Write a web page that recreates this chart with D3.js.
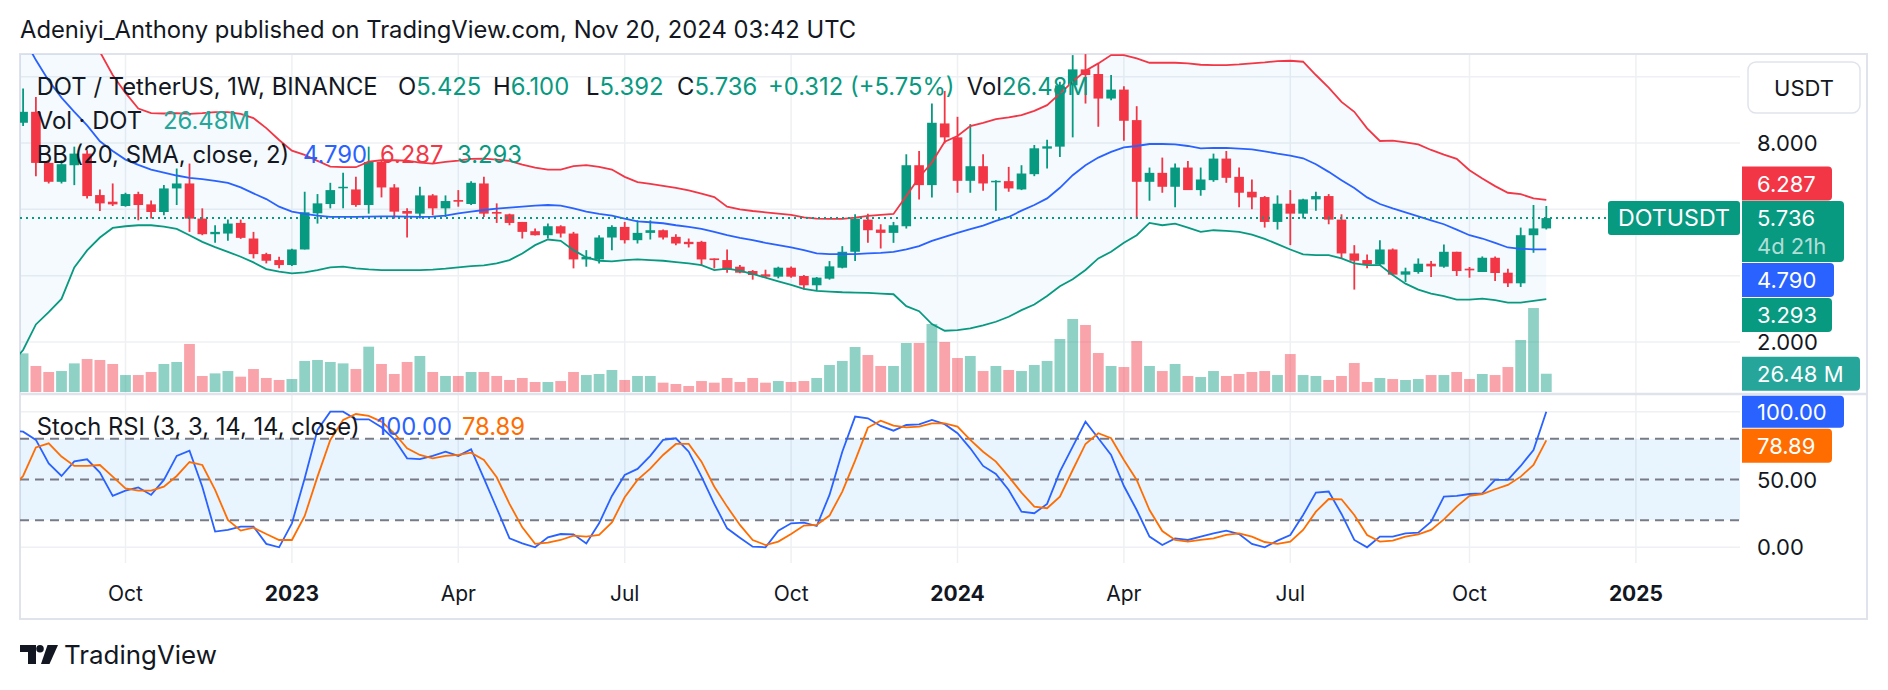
<!DOCTYPE html>
<html>
<head>
<meta charset="utf-8">
<script src="https://cdn.jsdelivr.net/npm/d3@7"></script>
<style>
  body { margin: 0; background: #fff; }
  svg { display: block; font-family: Inter, "Noto Sans", sans-serif; }
</style>
</head>
<body>
<svg id="chart" width="1888" height="690"></svg>
<script>
// weekly DOT/USDT bars, first week starts Mon 2022-08-01
const firstWeek = "2022-08-01";

const open = [8.70,8.61,8.94,7.40,6.83,7.33,7.68,6.43,6.23,6.10,
  6.46,6.15,5.92,6.63,6.78,5.72,5.25,5.27,5.59,5.12,
  4.65,4.47,4.32,4.79,5.88,6.16,6.64,6.60,6.13,7.43,
  6.66,5.95,5.87,6.42,6.03,6.28,6.16,6.78,5.92,5.85,
  5.62,5.34,5.22,5.49,5.27,4.49,4.49,5.15,5.47,5.07,
  5.29,5.37,5.17,5.02,5.02,4.52,4.47,4.27,4.14,4.04,
  3.97,4.24,3.99,3.71,3.91,4.24,4.72,5.69,5.39,5.29,
  5.49,7.33,6.73,8.59,8.17,6.86,7.30,6.83,6.85,6.60,
  7.06,7.83,7.89,9.74,10.22,10.08,9.34,9.61,8.69,6.83,
  7.10,6.68,7.26,6.58,6.88,7.53,6.98,6.53,6.37,5.62,
  6.17,5.87,6.30,6.40,5.69,4.67,4.47,4.34,4.79,4.03,
  4.11,4.36,4.27,4.72,4.21,4.11,4.54,4.09,3.77,5.22,5.425];
const high = [9.30,9.64,9.39,7.43,7.48,7.89,7.78,6.60,6.78,6.50,
  6.53,6.27,6.73,7.23,7.38,6.03,5.52,5.69,5.69,5.32,
  4.69,4.57,4.81,6.53,6.46,6.80,7.10,6.98,7.89,7.48,
  6.76,6.03,6.68,6.46,6.42,6.58,6.85,6.98,6.18,5.87,
  5.62,5.42,5.57,5.52,5.32,4.77,5.22,5.52,5.62,5.67,
  5.67,5.39,5.25,5.12,5.05,4.52,4.79,4.32,4.17,4.18,
  4.27,4.28,4.02,3.96,4.44,4.89,5.85,5.87,5.55,5.62,
  7.66,7.76,9.19,9.57,8.79,8.57,7.66,6.88,7.28,7.33,
  7.94,8.10,9.85,10.65,10.68,10.40,10.05,9.71,9.11,7.26,
  7.56,7.38,7.46,7.26,7.68,7.76,7.26,6.90,6.40,6.42,
  6.58,6.32,6.53,6.46,5.85,4.92,4.64,5.07,4.82,4.24,
  4.52,4.44,4.94,4.72,4.26,4.58,4.58,4.21,5.45,6.13,6.100];
const low = [8.20,8.51,7.00,6.78,6.78,6.73,6.33,5.95,6.10,6.08,
  5.67,5.72,5.82,6.13,5.32,5.22,4.99,5.05,5.11,4.52,
  4.37,4.22,4.29,4.79,5.57,6.03,6.03,6.08,5.87,6.36,
  5.72,5.15,5.72,5.82,5.77,6.08,6.13,5.77,5.59,5.52,
  5.12,5.21,5.12,5.15,4.22,4.27,4.37,4.77,4.97,4.97,
  5.09,5.09,4.92,4.85,4.29,4.22,4.09,4.07,3.88,3.94,
  3.92,3.94,3.58,3.54,3.88,4.22,4.44,4.99,4.82,4.99,
  5.42,6.30,6.36,7.99,6.50,6.50,6.56,5.96,6.53,6.58,
  7.00,7.23,7.58,8.17,9.19,8.49,9.29,8.07,5.72,6.26,
  6.50,6.06,6.58,6.41,6.83,6.80,6.06,6.00,5.45,5.39,
  4.92,5.72,5.96,5.55,4.52,3.58,4.22,4.31,4.01,3.81,
  4.06,3.96,4.24,3.99,3.94,4.11,3.84,3.66,3.66,4.69,5.392];
const close = [8.61,8.94,7.40,6.83,7.36,7.68,6.40,6.18,6.15,6.46,
  6.13,5.92,6.63,6.78,5.72,5.25,5.32,5.57,5.14,4.65,
  4.45,4.32,4.79,5.91,6.18,6.58,6.68,6.13,7.43,6.66,
  5.93,5.87,6.42,6.03,6.25,6.23,6.80,5.87,5.87,5.59,
  5.32,5.22,5.49,5.27,4.49,4.57,5.15,5.47,5.07,5.29,
  5.37,5.15,4.97,4.95,4.49,4.47,4.17,4.09,4.02,3.97,
  4.24,3.97,3.71,3.94,4.28,4.72,5.72,5.37,5.29,5.52,
  7.33,6.73,8.61,8.17,6.86,7.30,6.78,6.86,6.63,7.08,
  7.84,7.90,9.74,10.22,10.05,9.34,9.61,8.67,6.83,7.10,
  6.68,7.26,6.58,6.90,7.53,6.95,6.50,6.36,5.62,6.17,
  5.87,6.30,6.40,5.69,4.67,4.45,4.34,4.79,4.03,4.13,
  4.36,4.28,4.72,4.14,4.16,4.54,4.08,3.77,5.22,5.424,5.736];
// volume in millions of DOT
const volume = [60,56,37.7,29,30.4,41.5,47.8,46.4,40.6,24.6,
  24.6,29,40.6,43.5,69.6,23.2,27,30.4,22.2,33.3,
  20.3,17.4,18.8,45,46.4,43.5,41.5,33.3,65.7,40.6,
  26.1,43.5,52.2,29,23.2,23.2,29,29,23.2,17.4,
  20.3,14.5,14.5,15.9,29,24.6,26.1,31.9,17.4,23.2,
  23.2,13.5,11.6,8.7,15.9,13.5,20.3,14.5,20.3,13.5,
  15.9,14.5,15.9,20.3,39.1,45,65.2,53.6,37.7,37.7,
  71,71,98.6,72.5,49.3,52.2,30.4,37.7,31.9,30.4,
  39.1,45,76.8,105.8,97.1,56.5,37.7,36.2,73.9,37.7,
  30.4,40.6,23.2,21.7,30.4,23.2,26.1,29,30.4,24.6,
  55,24.6,23.2,17.4,23.2,42,14.5,20.3,18.8,17.4,
  18.8,24.6,24.6,29,18.8,26.1,24.6,36.2,75.4,121.7,26.48];

// Bollinger bands (20, SMA, close, 2)
const bbUpper = [14.6,14.0,13.3,12.6,12.0,11.5,11.1,10.75,10.05,9.51,
  9.04,8.90,8.89,8.90,8.88,8.90,8.93,8.93,8.88,8.75,
  8.45,8.09,7.77,7.64,7.46,7.29,7.27,7.27,7.44,7.48,
  7.48,7.47,7.41,7.38,7.43,7.47,7.52,7.53,7.50,7.46,
  7.35,7.26,7.20,7.20,7.30,7.33,7.28,7.20,6.98,6.82,
  6.77,6.71,6.65,6.57,6.47,6.37,6.08,6.00,5.95,5.91,
  5.87,5.83,5.76,5.72,5.71,5.71,5.75,5.80,5.83,5.86,
  6.40,6.96,7.41,8.04,8.21,8.51,8.61,8.72,8.77,8.84,
  8.97,9.14,9.49,9.85,10.18,10.40,10.65,10.65,10.55,10.42,
  10.42,10.42,10.40,10.36,10.35,10.35,10.37,10.40,10.43,10.47,
  10.48,10.45,10.05,9.67,9.24,8.94,8.44,8.06,8.07,8.02,
  7.96,7.79,7.65,7.52,7.18,6.93,6.70,6.50,6.46,6.33,6.287];
const bbBasis = [11.8,11.2,10.5,9.88,9.37,8.94,8.53,8.05,7.76,7.50,
  7.34,7.20,7.11,7.02,6.95,6.91,6.86,6.80,6.66,6.48,
  6.31,6.08,5.93,5.86,5.81,5.77,5.77,5.77,5.78,5.79,
  5.79,5.78,5.77,5.78,5.81,5.88,5.93,5.98,6.02,6.05,
  6.08,6.11,6.13,6.11,6.03,5.93,5.86,5.81,5.72,5.64,
  5.61,5.58,5.52,5.47,5.41,5.32,5.22,5.14,5.07,4.99,
  4.92,4.85,4.77,4.67,4.65,4.65,4.65,4.67,4.69,4.72,
  4.79,4.89,5.05,5.17,5.29,5.40,5.51,5.65,5.77,5.96,
  6.13,6.33,6.65,7.03,7.33,7.56,7.73,7.87,7.91,7.97,
  7.97,7.96,7.91,7.84,7.85,7.85,7.83,7.81,7.75,7.68,
  7.62,7.54,7.36,7.13,6.88,6.64,6.36,6.16,6.03,5.91,
  5.79,5.67,5.55,5.39,5.22,5.12,4.99,4.85,4.81,4.79,4.790];
const bbLower = [1.3,1.76,2.53,2.90,3.30,4.25,4.76,5.15,5.44,5.49,
  5.52,5.52,5.48,5.41,5.22,5.02,4.86,4.72,4.57,4.40,
  4.20,4.12,4.07,4.10,4.17,4.25,4.27,4.22,4.19,4.17,
  4.17,4.17,4.17,4.18,4.21,4.25,4.29,4.31,4.37,4.47,
  4.67,4.92,5.09,5.05,4.77,4.55,4.45,4.43,4.47,4.49,
  4.47,4.45,4.41,4.37,4.32,4.17,4.21,4.15,4.05,3.94,
  3.83,3.72,3.60,3.54,3.52,3.50,3.49,3.48,3.46,3.44,
  3.08,2.93,2.54,2.34,2.36,2.41,2.50,2.61,2.76,2.96,
  3.13,3.39,3.68,3.89,4.17,4.52,4.72,4.99,5.22,5.59,
  5.52,5.57,5.45,5.32,5.37,5.35,5.32,5.24,5.11,4.95,
  4.79,4.64,4.62,4.62,4.52,4.37,4.32,4.32,4.02,3.76,
  3.58,3.46,3.38,3.28,3.28,3.31,3.26,3.19,3.19,3.24,3.293];

// Stoch RSI (3, 3, 14, 14, close)
const stochK = [86,85.3,79.2,61.9,52.6,63.4,64.9,55.1,37.9,41.8,
  44.2,38.6,49.7,67.4,71.3,44.7,11.6,12.8,15.2,15.2,
  2.5,0,17.7,50.9,86.5,100,100,94.4,94.4,88.5,
  79.6,65.6,65.1,67.4,70.5,67.4,72.3,50.9,28.8,6.6,
  2.9,0,7.4,9.8,9.6,2.9,17.7,37.9,53.3,57.8,
  67.4,79.2,80.4,70.5,52.1,32.0,14.0,7.1,0.5,0,
  12.3,17.7,18.2,15.7,38.6,70.5,96.4,95.1,89.5,86.0,
  90.2,90.7,93.9,90.8,84.1,73.0,60.0,54.1,42.3,26.3,
  25.1,32.0,55.8,74.2,92.7,80.4,68.1,45.2,27.5,7.9,
  1.7,6.6,5.4,7.9,10.3,12.3,9.8,2.5,0,4.9,
  9.1,23.8,40.3,41.1,24.6,5.4,0,7.9,7.9,10.3,
  10.8,18.9,37.4,37.9,39.3,39.8,49.7,49.7,60.0,71.8,100];
const stochD = [42,52.6,73.7,76.7,66.9,60.0,60.0,60.7,52.1,43.5,
  41.8,41.8,44.7,52.6,62.9,60.7,42.3,20.2,12.3,14.5,
  9.8,5.4,5.4,23.1,52.1,79.2,93.9,98.3,96.9,92.7,
  84.1,73.0,68.1,65.6,67.4,68.1,69.8,64.4,51.6,32.0,
  14.7,2.5,3.4,5.4,8.6,7.9,9.1,18.4,36.9,49.7,
  58.0,68.1,76.2,76.2,63.2,44.7,30.0,16.5,5.4,1.7,
  4.2,9.8,16.0,16.5,23.4,41.1,63.9,88.3,93.4,89.7,
  88.5,89.0,91.4,91.4,89.0,79.2,70.5,63.2,52.1,40.3,
  30.0,28.8,37.4,57.0,76.2,84.1,80.4,64.4,49.7,27.5,
  12.0,5.4,4.2,5.4,6.6,9.1,10.3,7.9,3.9,2.5,
  4.2,12.8,26.3,35.6,35.4,23.8,9.1,4.2,4.9,7.9,
  9.6,12.8,20.6,30.0,37.9,39.3,42.8,46.0,52.1,60.7,78.89];

const tickDates  = ["2022-10-03","2023-01-02","2023-04-03","2023-07-03","2023-10-02",
                    "2024-01-01","2024-04-01","2024-07-01","2024-10-07","2025-01-06"];
const tickLabels = ["Oct","2023","Apr","Jul","Oct","2024","Apr","Jul","Oct","2025"];
const priceGrid = [10, 8, 6, 4, 2];
const priceLabels = [8, 2];
const stochGrid = [100, 0];
const stochDashed = [80, 50, 20];
const stochLabels = [50, 0];

const UP = "#089981", DOWN = "#F23645", BLUE = "#2962FF", ORANGE = "#FF6D00", TXT = "#131722";
const GRID = "#EEF0F3", BORDER = "#E0E3EB";

const svg = d3.select("#chart");
const parse = d3.utcParse("%Y-%m-%d");
const start = parse(firstWeek);
const weeks = open.map((_, i) => d3.utcMonday.offset(start, i));
const n = open.length;

const L = 20, R = 1740, AX = 1867;
const mainTop = 54, mainBot = 393, stTop = 395, stBot = 563, bottom = 619;

const x = d3.scaleUtc().domain([start, parse("2025-01-06")]).range([10.3, 1635.9]);
const y = d3.scaleLinear().domain([2, 8]).range([342, 143]);
const yv = d3.scaleLinear().domain([0, 100]).range([392, 323]);
const ys = d3.scaleLinear().domain([0, 100]).range([547.3, 411.7]);

const defs = svg.append("defs");
defs.append("clipPath").attr("id", "mainClip").append("rect")
  .attr("x", L).attr("y", mainTop).attr("width", R - L).attr("height", mainBot - mainTop);
defs.append("clipPath").attr("id", "stClip").append("rect")
  .attr("x", L).attr("y", stTop).attr("width", R - L).attr("height", stBot - stTop);

function fit(sel, width) {
  const w = sel.node().getComputedTextLength();
  const fs = +sel.attr("font-size") * width / w;
  sel.attr("font-size", fs);
  return fs;
}

// title
const title = svg.append("text").attr("x", 20).attr("y", 38).attr("fill", TXT)
  .attr("font-size", 21).text("Adeniyi_Anthony published on TradingView.com, Nov 20, 2024 03:42 UTC");
fit(title, 837);

// grid
const grid = svg.append("g");
grid.selectAll(".hg").data(priceGrid).join("line")
  .attr("x1", L).attr("x2", R).attr("y1", d => y(d)).attr("y2", d => y(d))
  .attr("stroke", GRID).attr("stroke-width", 1.5);
grid.selectAll(".sg").data(stochGrid).join("line")
  .attr("x1", L).attr("x2", R).attr("y1", d => ys(d)).attr("y2", d => ys(d))
  .attr("stroke", GRID).attr("stroke-width", 1.5);
tickDates.forEach(t => {
  const xx = x(parse(t));
  grid.append("line").attr("x1", xx).attr("x2", xx).attr("y1", mainTop).attr("y2", mainBot)
    .attr("stroke", GRID).attr("stroke-width", 1.5);
  grid.append("line").attr("x1", xx).attr("x2", xx).attr("y1", stTop).attr("y2", stBot)
    .attr("stroke", GRID).attr("stroke-width", 1.5);
});

// frame
svg.append("rect").attr("x", L).attr("y", mainTop).attr("width", AX - L).attr("height", bottom - mainTop)
  .attr("fill", "none").attr("stroke", BORDER).attr("stroke-width", 2);
svg.append("line").attr("x1", L).attr("x2", AX).attr("y1", 394).attr("y2", 394)
  .attr("stroke", BORDER).attr("stroke-width", 2.5);

// main pane
const main = svg.append("g").attr("clip-path", "url(#mainClip)");
const idx = d3.range(n);

main.append("path").datum(idx)
  .attr("fill", "rgba(33,150,243,0.05)")
  .attr("d", d3.area().x(i => x(weeks[i])).y0(i => y(bbLower[i])).y1(i => y(bbUpper[i])));

main.append("g").selectAll("rect").data(idx).join("rect")
  .attr("x", i => x(weeks[i]) - 5.4).attr("width", 10.8)
  .attr("y", i => yv(volume[i])).attr("height", i => yv(0) - yv(volume[i]))
  .attr("fill", i => close[i] >= open[i] ? "rgba(8,153,129,0.45)" : "rgba(242,54,69,0.45)");

const candles = main.append("g").selectAll("g").data(idx).join("g");
candles.append("line")
  .attr("x1", i => x(weeks[i])).attr("x2", i => x(weeks[i]))
  .attr("y1", i => y(high[i])).attr("y2", i => y(low[i]))
  .attr("stroke", i => close[i] >= open[i] ? UP : DOWN).attr("stroke-width", 1.8);
candles.append("rect")
  .attr("x", i => x(weeks[i]) - 4.8).attr("width", 9.6)
  .attr("y", i => y(Math.max(open[i], close[i])))
  .attr("height", i => Math.max(1.5, Math.abs(y(open[i]) - y(close[i]))))
  .attr("fill", i => close[i] >= open[i] ? UP : DOWN);

[[bbUpper, DOWN], [bbBasis, BLUE], [bbLower, UP]].forEach(([arr, col]) => {
  main.append("path").datum(idx).attr("fill", "none").attr("stroke", col).attr("stroke-width", 1.8)
    .attr("d", d3.line().x(i => x(weeks[i])).y(i => y(arr[i])));
});

const last = n - 1;
main.append("line").attr("x1", L).attr("x2", 1608)
  .attr("y1", y(close[last])).attr("y2", y(close[last]))
  .attr("stroke", UP).attr("stroke-width", 2).attr("stroke-dasharray", "2,4");

// stoch pane
const st = svg.append("g");
st.append("rect").attr("x", L).attr("width", R - L)
  .attr("y", ys(80)).attr("height", ys(20) - ys(80)).attr("fill", "rgba(33,150,243,0.1)");
st.selectAll(".dl").data(stochDashed).join("line")
  .attr("x1", L).attr("x2", R).attr("y1", d => ys(d)).attr("y2", d => ys(d))
  .attr("stroke", "#787B86").attr("stroke-width", 2).attr("stroke-dasharray", "9,6");
const stl = st.append("g").attr("clip-path", "url(#stClip)");
[[stochK, BLUE], [stochD, ORANGE]].forEach(([arr, col]) => {
  stl.append("path").datum(idx).attr("fill", "none").attr("stroke", col).attr("stroke-width", 1.8)
    .attr("d", d3.line().x(i => x(weeks[i])).y(i => ys(arr[i])));
});

// legends
const lg = svg.append("g");
const l1 = lg.append("text").attr("x", 36.7).attr("y", 94.5).attr("fill", TXT).attr("font-size", 22)
  .text("DOT / TetherUS, 1W, BINANCE");
const fs = fit(l1, 341);
function seg(xx, yy, parts) {
  const t = lg.append("text").attr("x", xx).attr("y", yy).attr("font-size", fs);
  parts.forEach(([s, c]) => t.append("tspan").attr("fill", c).text(s));
  return t;
}
const fmt3 = d3.format(".3f");
seg(398, 94.5, [["O", TXT], [fmt3(open[last]), UP]]);
seg(493, 94.5, [["H", TXT], [fmt3(high[last]), UP]]);
seg(586, 94.5, [["L", TXT], [fmt3(low[last]), UP]]);
seg(677, 94.5, [["C", TXT], [fmt3(close[last]), UP]]);
const chg = close[last] - close[last - 1];
seg(768, 94.5, [["+" + fmt3(chg) + " (+" + d3.format(".2f")(chg / close[last - 1] * 100) + "%)", UP]]);
seg(966.7, 94.5, [["Vol", TXT], [volume[last].toFixed(2) + "M", UP]]);
seg(36.7, 128.5, [["Vol · DOT", TXT]]);
seg(163, 128.5, [[volume[last].toFixed(2) + "M", "#26A69A"]]);
seg(36.7, 163, [["BB (20, SMA, close, 2)", TXT]]);
seg(303, 163, [[fmt3(bbBasis[last]), BLUE]]);
seg(380, 163, [[fmt3(bbUpper[last]), DOWN]]);
seg(457, 163, [[fmt3(bbLower[last]), UP]]);

const sl = lg.append("text").attr("x", 36.7).attr("y", 435).attr("fill", TXT).attr("font-size", 22)
  .text("Stoch RSI (3, 3, 14, 14, close)");
const fs2 = fit(sl, 323);
lg.append("text").attr("x", 376.6).attr("y", 435).attr("font-size", fs2).attr("fill", BLUE)
  .text(stochK[last].toFixed(2));
lg.append("text").attr("x", 462).attr("y", 435).attr("font-size", fs2).attr("fill", ORANGE)
  .text(stochD[last].toFixed(2));

// price axis
const ax = svg.append("g").attr("font-size", 22);
ax.selectAll(".pl").data(priceLabels).join("text")
  .attr("x", 1757).attr("y", d => y(d) + 8).attr("fill", TXT).text(d => d.toFixed(3));
ax.selectAll(".sl").data(stochLabels).join("text")
  .attr("x", 1757).attr("y", d => ys(d) + 8).attr("fill", TXT).text(d => d.toFixed(2));
ax.append("rect").attr("x", 1748).attr("y", 62).attr("width", 112).attr("height", 51).attr("rx", 8)
  .attr("fill", "#fff").attr("stroke", BORDER).attr("stroke-width", 1.5);
ax.append("text").attr("x", 1804).attr("y", 96).attr("text-anchor", "middle").attr("fill", TXT).text("USDT");

function tag(cy, h, w, col, lines) {
  ax.append("path").attr("fill", col)
    .attr("d", `M1742,${cy - h / 2}h${w - 4}a4,4 0 0 1 4,4v${h - 8}a4,4 0 0 1 -4,4h${-(w - 4)}z`);
  lines.forEach(([s, c, dy]) => ax.append("text").attr("x", 1757).attr("y", cy - h / 2 + dy)
    .attr("fill", c).text(s));
}
// last price tag anchored, the others pushed away from it
const lastY = y(close[last]);
const lastTop = lastY - 17, lastBot = lastTop + 61;
const upY = Math.min(y(bbUpper[last]), lastTop - 17.5);
const basY = Math.max(y(bbBasis[last]), lastBot + 18);
const lowY = Math.max(y(bbLower[last]), basY + 35);
tag(upY, 34, 90, DOWN, [[fmt3(bbUpper[last]), "#fff", 25]]);
tag(lastY + 13.5, 61, 102, UP, [[fmt3(close[last]), "#fff", 25], ["4d 21h", "rgba(255,255,255,0.7)", 53]]);
tag(basY, 34, 92, BLUE, [[fmt3(bbBasis[last]), "#fff", 25]]);
tag(lowY, 34, 90, UP, [[fmt3(bbLower[last]), "#fff", 25]]);
tag(yv(volume[last]), 34, 118, "#26A69A", [[volume[last].toFixed(2) + " M", "#fff", 25]]);
const kY = ys(stochK[last]);
tag(kY, 32, 102, BLUE, [[stochK[last].toFixed(2), "#fff", 24]]);
tag(Math.max(ys(stochD[last]), kY + 34), 34, 90, ORANGE, [[stochD[last].toFixed(2), "#fff", 25]]);
// symbol label on the price line
ax.append("rect").attr("x", 1608).attr("y", lastY - 17).attr("width", 132).attr("height", 34)
  .attr("rx", 3).attr("fill", UP);
const sym = ax.append("text").attr("x", 1674).attr("y", lastY + 8).attr("text-anchor", "middle")
  .attr("font-size", 22).attr("fill", "#fff").text("DOTUSDT");
fit(sym, 112);

// time axis
svg.append("g").attr("font-size", 21).selectAll("text").data(tickDates).join("text")
  .attr("x", d => x(parse(d))).attr("y", 601).attr("text-anchor", "middle").attr("fill", TXT)
  .attr("font-weight", (d, i) => /^\d{4}$/.test(tickLabels[i]) ? 700 : 400)
  .text((d, i) => tickLabels[i]);

// logo
const logo = svg.append("g").attr("fill", TXT);
logo.append("path").attr("d", "M20,645H36V664H28V652H20Z");
logo.append("circle").attr("cx", 40).attr("cy", 648.8).attr("r", 3.8);
logo.append("path").attr("d", "M47.5,645H58L49.5,664H41Z");
const lt = logo.append("text").attr("x", 64).attr("y", 664).attr("font-size", 23).text("TradingView");
fit(lt, 153);
</script>
</body>
</html>
